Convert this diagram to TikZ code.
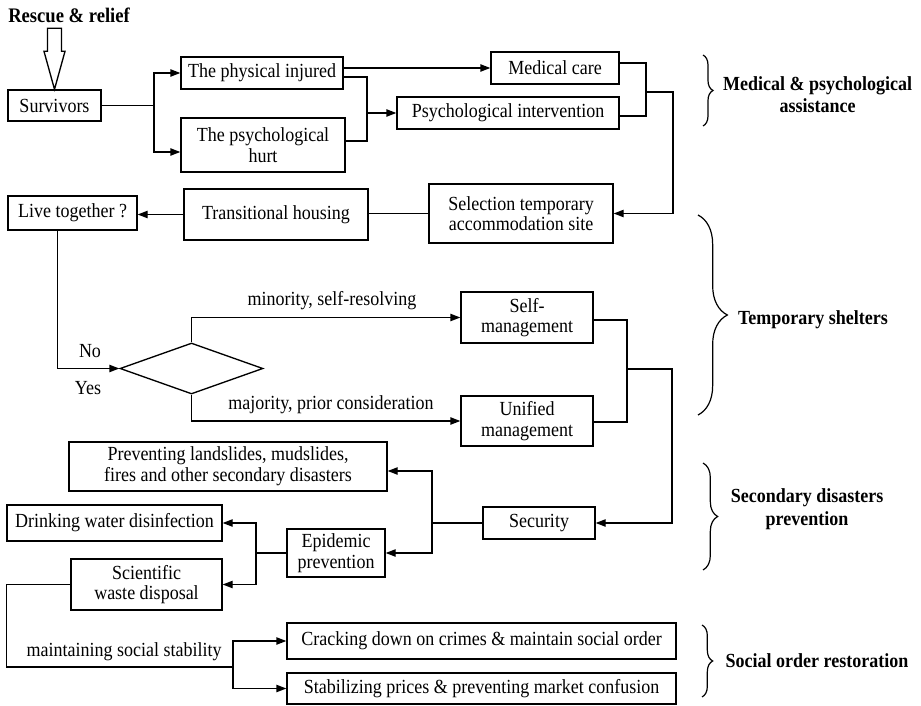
\documentclass[tikz,border=0pt]{standalone}
\usepackage{fontspec}
\setmainfont[FakeStretch=0.9]{Liberation Serif}
\usetikzlibrary{arrows.meta,shapes.geometric,calc,decorations.pathreplacing}
\begin{document}
\begin{tikzpicture}[x=0.75pt,y=-0.75pt,
  every node/.style={font=\fontsize{15}{15.5}\selectfont},
  box/.style={draw, line width=1pt, inner sep=0pt, align=center},
  link/.style={line width=1pt},
  arr/.style={link, -{Triangle[length=7.5pt,width=5.5pt]}},
  lbl/.style={inner sep=0pt},
  group/.style={font=\fontsize{15}{17}\selectfont\bfseries, align=center, inner sep=0pt},
  curly/.style={decorate, decoration={brace, amplitude=#1}, line width=0.9pt},
]
\useasboundingbox (0,0) rectangle (921,706);

% ---- top: rescue and first aid ----
\node[group, anchor=west, font=\fontsize{15.5}{17}\selectfont\bfseries] (rescue) at (8,15) {Rescue \& relief};
\node[box, minimum width=69.75pt, minimum height=23.25pt] (surv) at (54.5,105.5) {Survivors};
\draw[line width=1pt, fill=white] ($(surv.north)+(-7,-61)$) -- ++(14,0) -- ++(0,23) -- ++(3.5,0)
  -- (surv.north) -- ++(-10.5,-38) -- ++(3.5,0) -- cycle;

\node[box, minimum width=121.5pt, minimum height=24pt] (phys) at (262,73) {The physical injured};
\node[box, minimum width=123pt, minimum height=40.5pt] (hurt) at (263,145) {The psychological\\hurt};
\node[box, minimum width=96pt, minimum height=24pt] (med) at (555,68) {Medical care};
\node[box, minimum width=166.5pt, minimum height=24pt] (psyint) at (508,113) {Psychological intervention};

% ---- shelters ----
\node[box, minimum width=138pt, minimum height=44.25pt] (sel) at (521,213.5) {Selection temporary\\accommodation site};
\node[box, minimum width=138pt, minimum height=38.25pt] (trans) at (276,214.5) {Transitional housing};
\node[box, minimum width=96.75pt, minimum height=25.5pt] (live) at (72.5,213) {Live together ?};
\node[draw, diamond, line width=1pt, inner sep=0pt, minimum width=107.25pt, minimum height=38.25pt] (dec) at (191.5,368.5) {};
\node[box, minimum width=99pt, minimum height=38.25pt] (self) at (527,317.5) {Self-\\management};
\node[box, minimum width=99pt, minimum height=37.5pt] (unif) at (527,421) {Unified\\management};

% ---- secondary disasters ----
\node[box, minimum width=238.5pt, minimum height=36.75pt] (prev) at (228,466.5) {Preventing landslides, mudslides,\\fires and other secondary disasters};
\node[box, minimum width=84pt, minimum height=24pt] (secu) at (539,523) {Security};
\node[box, minimum width=161.25pt, minimum height=27pt] (drink) at (114.5,523) {Drinking water disinfection};
\node[box, minimum width=73.5pt, minimum height=36pt] (epid) at (336,553) {Epidemic\\prevention};
\node[box, minimum width=113.25pt, minimum height=38.25pt] (sci) at (146.5,584.5) {Scientific\\waste disposal};

% ---- social order ----
\node[box, minimum width=291.75pt, minimum height=27pt] (crack) at (481.5,641) {Cracking down on crimes \& maintain social order};
\node[box, minimum width=291.75pt, minimum height=23.25pt] (stab) at (481.5,688.5) {Stabilizing prices \& preventing market confusion};

% ---- connectors ----
\coordinate (bS) at (154,105.5);
\draw[link] (surv.east) -- (bS);
\draw[arr] (bS) |- (phys.west);
\draw[arr] (bS) |- ($(hurt.west)+(0,7)$);

\draw[arr] (phys.east |- med.west) -- (med.west);
\coordinate (jP) at (367,113);
\draw[link] ($(phys.east)+(0,4)$) -| (jP);
\draw[link] ($(hurt.east)+(0,-4)$) -| (jP);
\draw[arr] (jP) -- (psyint.west);

\coordinate (jM) at (646,92);
\draw[link] ($(med.east)+(0,-5)$) -| (jM);
\draw[link] ($(psyint.east)+(0,3)$) -| (jM);
\draw[arr] (jM) -- ++(27,0) |- (sel.east);

\draw[link] (sel.west) -- (sel.west -| trans.east);
\draw[arr] (trans.west) -- (trans.west -| live.east);
\draw[arr] ($(live.south)+(-15,0)$) |- (dec.west);
\node[lbl] (no) at (90,351) {No};
\node[lbl] (yes) at (88,388) {Yes};
\draw[arr] (dec.north) |- (self.west);
\draw[arr] (dec.south) |- (unif.west);
\node[lbl] (minor) at (332,301) {minority, self-resolving};
\node[lbl] (major) at (331,405) {majority, prior consideration};

\coordinate (jS) at (627,369);
\draw[link] ($(self.east)+(0,2.5)$) -| (jS);
\draw[link] ($(unif.east)+(0,1)$) -| (jS);
\draw[arr] (jS) -- ++(45,0) |- (secu.east);

\coordinate (jE) at (432,523);
\draw[link] (secu.west) -- (jE);
\draw[arr] (jE) |- ($(prev.east)+(0,4.5)$);
\draw[arr] (jE) |- (epid.east);

\coordinate (jD) at (256,553);
\draw[link] (epid.west) -- (jD);
\draw[arr] (jD) |- (drink.east);
\draw[arr] (jD) |- (sci.east);

\coordinate (jC) at (233,667);
\draw[link] (sci.west) -- ++(-64,0) |- (jC);
\draw[arr] (jC) |- (crack.west);
\draw[arr] (jC) |- (stab.west);
\node[lbl] (maint) at (124,652) {maintaining social stability};

% ---- phase braces ----
\draw[curly=7.5pt] (703,55) -- (703,126);
\node[group] (gMed) at (817.5,94.5) {Medical \& psychological\\assistance};
\draw[curly=22pt] (698,215) -- (698,415);
\node[group] (gTemp) at (813,320) {Temporary shelters};
\draw[curly=11pt] (703,463) -- (703,570);
\node[group] (gSec) at (807,509) {Secondary disasters\\prevention};
\draw[curly=8pt] (702,625) -- (702,697);
\node[group] (gSoc) at (817,661) {Social order restoration};
\end{tikzpicture}
\end{document}
